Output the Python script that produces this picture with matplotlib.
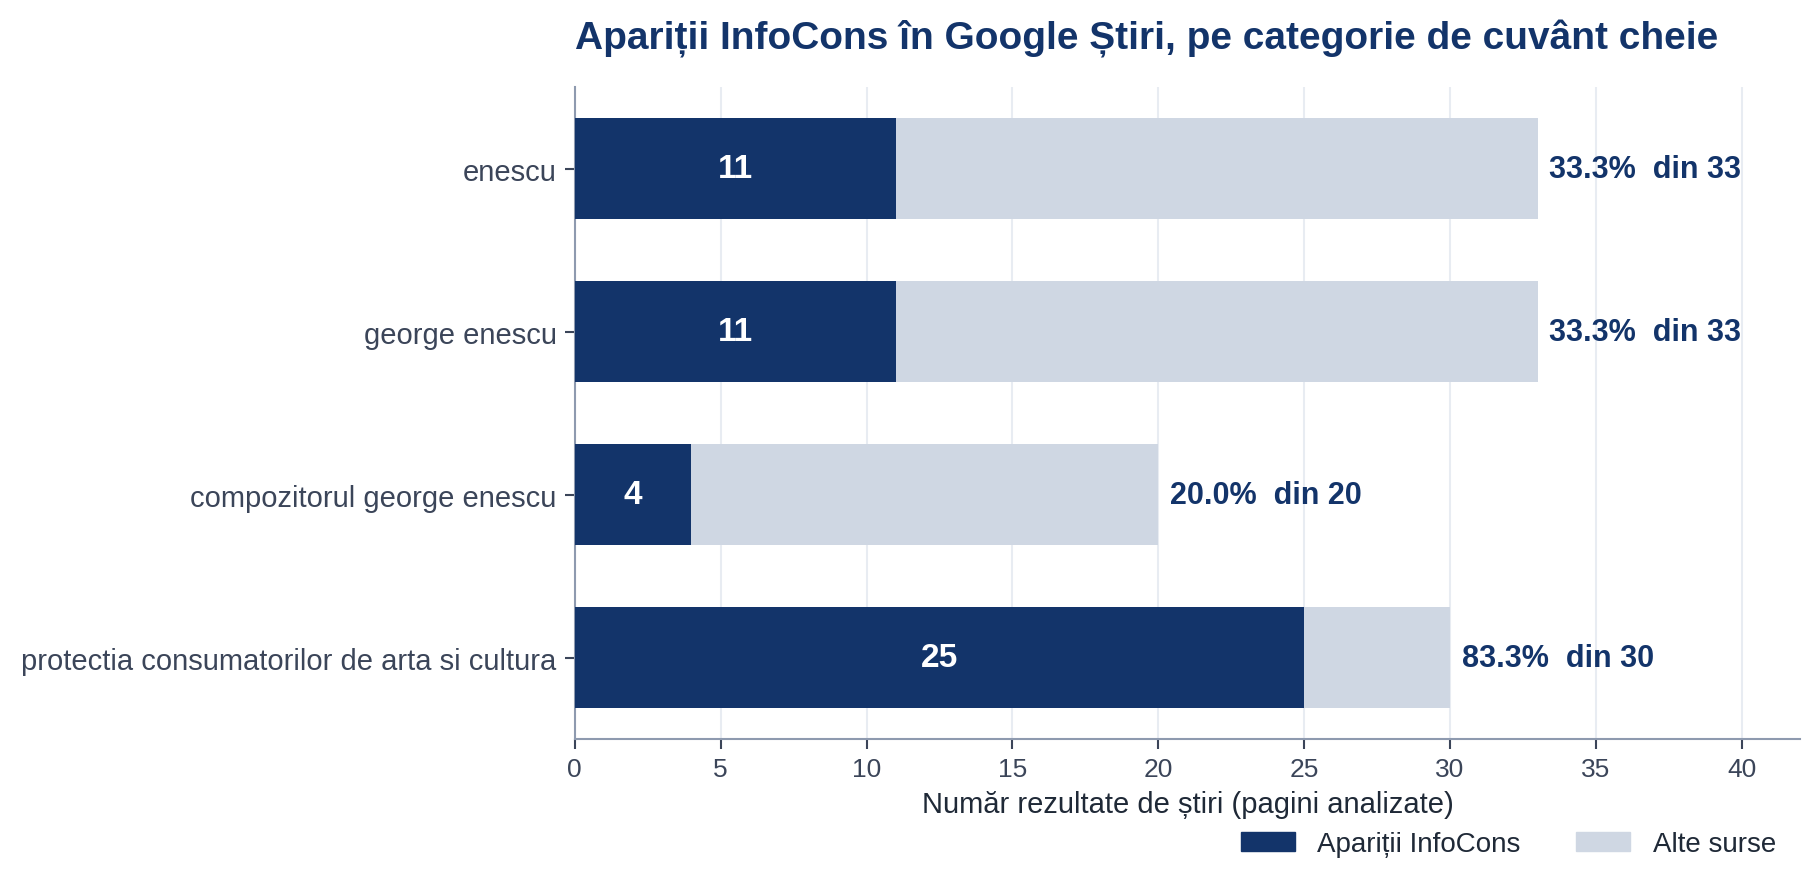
import matplotlib
matplotlib.use("Agg")
import matplotlib.pyplot as plt
from matplotlib.patches import Patch

plt.rcParams['font.family'] = ['Liberation Sans', 'DejaVu Sans']

# DATA
keywords = ['enescu', 'george enescu', 'compozitorul george enescu',
            'protectia consumatorilor de arta si cultura']
infocons = [11, 11, 4, 25]
totals = [33, 33, 20, 30]

NAVY = '#13346a'
LIGHT = '#cfd7e3'
TICK_COLOR = '#3b4559'
SPINE = '#8e9aaf'
GRID = '#e8ecf2'

fig = plt.figure(figsize=(18.19, 8.87), dpi=100)
ax = fig.add_axes([0.316, 0.1655, 0.6736, 0.735])

others = [t - v for t, v in zip(totals, infocons)]
ypos = list(range(len(keywords)))

ax.barh(ypos, infocons, height=0.62, color=NAVY, zorder=3)
ax.barh(ypos, others, left=infocons, height=0.62, color=LIGHT, zorder=3)

for y, v, t in zip(ypos, infocons, totals):
    ax.text(v / 2, y, str(v), ha='center', va='center', color='white',
            fontsize=24, fontweight='bold', zorder=4)
    ax.text(t + 0.4, y, f'{100 * v / t:.1f}%  din {t}', ha='left', va='center',
            color=NAVY, fontsize=22, fontweight='bold', zorder=4)

ax.set_xlim(0, 42)
ax.set_ylim(len(keywords) - 0.5, -0.5)
ax.set_yticks(ypos)
ax.set_yticklabels(keywords)
ax.set_xticks(range(0, 41, 5))

ax.grid(axis='x', color=GRID, linewidth=1.5, zorder=0)
ax.set_axisbelow(True)
for s in ['top', 'right']:
    ax.spines[s].set_visible(False)
for s in ['left', 'bottom']:
    ax.spines[s].set_color(SPINE)
    ax.spines[s].set_linewidth(1.5)

ax.tick_params(axis='y', labelsize=21, colors=TICK_COLOR, length=7, width=1.5, pad=6)
ax.tick_params(axis='x', labelsize=19, colors=TICK_COLOR, length=7, width=1.5, pad=6)

ax.set_xlabel('Număr rezultate de știri (pagini analizate)', fontsize=21,
              color='#1f2937', labelpad=6)
ax.set_title('Apariții InfoCons în Google Știri, pe categorie de cuvânt cheie',
             loc='left', fontsize=28, fontweight='bold', color=NAVY, pad=28)

handles = [Patch(color=NAVY, label='Apariții InfoCons'),
           Patch(color=LIGHT, label='Alte surse')]
fig.legend(handles=handles, loc='center right', bbox_to_anchor=(0.99, 0.047),
           ncol=2, frameon=False, fontsize=20, handlelength=1.95, handleheight=0.65,
           handletextpad=0.8, columnspacing=2.0, labelcolor='#1f2937')

fig.savefig('out.png', dpi=100)
